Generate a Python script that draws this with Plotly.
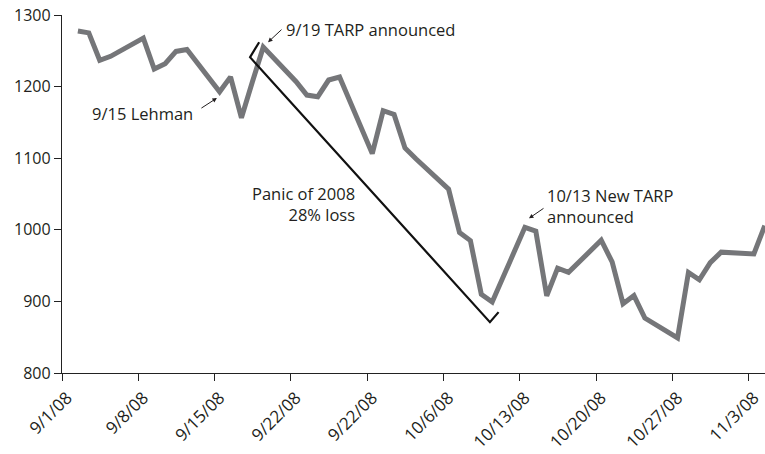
import plotly.graph_objects as go
import pandas as pd

dates = ["2008-09-02", "2008-09-03", "2008-09-04", "2008-09-05",
         "2008-09-08", "2008-09-09", "2008-09-10", "2008-09-11", "2008-09-12",
         "2008-09-15", "2008-09-16", "2008-09-17", "2008-09-18", "2008-09-19",
         "2008-09-22", "2008-09-23", "2008-09-24", "2008-09-25", "2008-09-26",
         "2008-09-29", "2008-09-30", "2008-10-01", "2008-10-02", "2008-10-03",
         "2008-10-06", "2008-10-07", "2008-10-08", "2008-10-09", "2008-10-10",
         "2008-10-13", "2008-10-14", "2008-10-15", "2008-10-16", "2008-10-17",
         "2008-10-20", "2008-10-21", "2008-10-22", "2008-10-23", "2008-10-24",
         "2008-10-27", "2008-10-28", "2008-10-29", "2008-10-30", "2008-10-31",
         "2008-11-03", "2008-11-04"]
values = [1277.6, 1275.0, 1236.8, 1242.3,
          1267.8, 1224.5, 1232.0, 1249.1, 1251.7,
          1192.7, 1213.6, 1156.4, 1206.5, 1255.1,
          1207.1, 1188.2, 1185.9, 1209.2, 1213.3,
          1106.4, 1166.4, 1161.1, 1114.3, 1099.2,
          1056.9, 996.2, 984.9, 909.9, 899.2,
          1003.4, 998.0, 907.8, 946.4, 940.6,
          985.4, 955.1, 896.8, 908.1, 876.8,
          848.9, 940.5, 930.1, 954.1, 968.8,
          966.3, 1005.8]

tick_dates = ["2008-09-01", "2008-09-08", "2008-09-15", "2008-09-22", "2008-09-29",
              "2008-10-06", "2008-10-13", "2008-10-20", "2008-10-27", "2008-11-03"]
tick_labels = ["9/1/08", "9/8/08", "9/15/08", "9/22/08", "9/22/08",
               "10/6/08", "10/13/08", "10/20/08", "10/27/08", "11/3/08"]
y_ticks = [800, 900, 1000, 1100, 1200, 1300]

shift = pd.Timedelta(hours=11)
tickvals = [pd.Timestamp(d) - shift for d in tick_dates]

FONT = "Open Sans"
TXT = "#231f20"

fig = go.Figure()
fig.add_trace(go.Scatter(
    x=dates, y=values, mode="lines",
    line=dict(color="#757679", width=5),
    hoverinfo="skip", showlegend=False,
))

# bracket line
fig.add_trace(go.Scatter(
    x=["2008-09-18 15:00", "2008-09-17 19:00", "2008-10-09 19:00", "2008-10-10 14:00"],
    y=[1262, 1241, 871, 885],
    mode="lines", line=dict(color="#111111", width=2.2),
    hoverinfo="skip", showlegend=False,
))

ann_font = dict(family=FONT, size=16.5, color=TXT)
annotations = [
    dict(x="2008-09-12 18:00", y=1162, xref="x", yref="y", text="9/15 Lehman",
         showarrow=False, xanchor="right", yanchor="middle", font=ann_font),
    dict(x="2008-09-14 18:00", y=1184, xref="x", yref="y", text="", showarrow=True,
         ax=-17, ay=11, arrowhead=2, arrowsize=0.9, arrowwidth=1, arrowcolor=TXT),
    dict(x="2008-09-20 21:00", y=1280, xref="x", yref="y", text="9/19 TARP announced",
         showarrow=False, xanchor="left", yanchor="middle", font=ann_font),
    dict(x="2008-09-19 10:30", y=1262, xref="x", yref="y", text="", showarrow=True,
         ax=15, ay=-14, arrowhead=2, arrowsize=0.9, arrowwidth=1, arrowcolor=TXT),
    dict(x="2008-09-27 14:00", y=1036, xref="x", yref="y", text="Panic of 2008<br>28% loss",
         showarrow=False, xanchor="right", yanchor="middle", align="right", font=ann_font),
    dict(x="2008-10-14 20:00", y=1033, xref="x", yref="y", text="10/13 New TARP<br>announced",
         showarrow=False, xanchor="left", yanchor="middle", align="left", font=ann_font),
    dict(x="2008-10-13 09:00", y=1016, xref="x", yref="y", text="", showarrow=True,
         ax=16, ay=-11, arrowhead=2, arrowsize=0.9, arrowwidth=1, arrowcolor=TXT),
]

fig.update_layout(
    width=765, height=454,
    margin=dict(l=62, r=0, t=15, b=81, autoexpand=False),
    paper_bgcolor="white", plot_bgcolor="white",
    font=dict(family=FONT, size=16, color=TXT),
    annotations=annotations,
    xaxis=dict(
        range=[pd.Timestamp("2008-09-01") - shift, pd.Timestamp("2008-11-04 00:30")],
        tickmode="array", tickvals=tickvals, ticktext=tick_labels,
        tickangle=-45, ticks="outside", ticklen=7, tickwidth=1.2, tickcolor="#222",
        ticklabelshift=5,
        showline=True, linecolor="#222", linewidth=1.3,
        showgrid=False, zeroline=False, fixedrange=True, automargin=False,
        tickfont=dict(family=FONT, size=17, color=TXT),
    ),
    yaxis=dict(
        range=[800, 1300], tickvals=y_ticks,
        ticks="outside", ticklen=7, tickwidth=1.2, tickcolor="#222",
        showline=True, linecolor="#222", linewidth=1.3,
        showgrid=False, zeroline=False, fixedrange=True, automargin=False,
        tickfont=dict(family=FONT, size=16, color=TXT),
    ),
)

post = ("document.body.style.margin='0';document.body.style.overflow='hidden';"
        "var gd=document.getElementById('{plot_id}');"
        "Plotly.relayout(gd,{width:765,height:454});")

fig.write_html("out.html", config={"responsive": False, "displayModeBar": False},
               post_script=post)
